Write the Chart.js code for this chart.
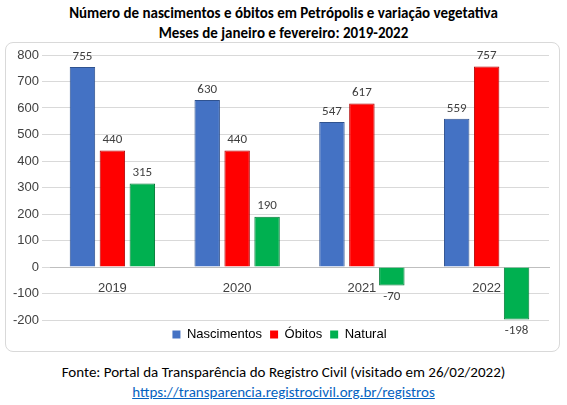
<!DOCTYPE html>
<html><head><meta charset="utf-8">
<script src="https://cdn.jsdelivr.net/npm/chart.js@4/dist/chart.umd.min.js"></script>
<style>
body{margin:0;width:567px;height:405px;font-family:Calibri,Carlito,"Liberation Sans",sans-serif;background:#fff}
h1{margin:0;padding-top:3px;font-size:15px;line-height:20px;text-align:center;font-weight:bold}
#box{position:absolute;left:5px;top:42px;width:553px;height:308px;border:1px solid #d9d9d9;border-radius:8px}
.foot{position:absolute;left:0;width:567px;text-align:center;font-size:15px}
a{color:#0563c1}
</style></head><body>
<h1>Número de nascimentos e óbitos em Petrópolis e variação vegetativa<br>Meses de janeiro e fevereiro: 2019-2022</h1>
<div id="box"><canvas id="c" width="553" height="308"></canvas></div>
<div class="foot" style="top:363px">Fonte: Portal da Transparência do Registro Civil (visitado em 26/02/2022)</div>
<div class="foot" style="top:383px"><a href="#">https://transparencia.registrocivil.org.br/registros</a></div>
<script>
const years = ['2019', '2020', '2021', '2022'];
const nascimentos = [755, 630, 547, 559];
const obitos = [440, 440, 617, 757];
const natural = [315, 190, -70, -198];

function grad(c1, c2) {
    return function(ctx) {
        const el = ctx.element;
        if (!el || !el.width) return c1;
        const g = ctx.chart.ctx.createLinearGradient(el.x - el.width / 2, 0, el.x + el.width / 2, 0);
        g.addColorStop(0, c2); g.addColorStop(0.4, c1); g.addColorStop(1, c2);
        return g;
    };
}

const labelPlugin = {
    id: 'labels',
    afterDatasetsDraw(chart) {
        const ctx = chart.ctx;
        ctx.save();
        ctx.font = '13px Calibri, Carlito, "Liberation Sans", sans-serif';
        ctx.fillStyle = '#404040';
        ctx.textAlign = 'center';
        chart.data.datasets.forEach((ds, i) => {
            chart.getDatasetMeta(i).data.forEach((bar, j) => {
                const v = ds.data[j];
                if (v >= 0) { ctx.textBaseline = 'bottom'; ctx.fillText(v, bar.x, bar.y - 4); }
                else { ctx.textBaseline = 'top'; ctx.fillText(v, bar.x, bar.y + 5); }
            });
        });
        ctx.restore();
    }
};

new Chart(document.getElementById('c'), {
    type: 'bar',
    data: {
        labels: years,
        datasets: [
            { label: 'Nascimentos', data: nascimentos, backgroundColor: grad('#4472C4', '#2a4a8a'), borderColor: '#2f528f', borderWidth: 1 },
            { label: 'Óbitos', data: obitos, backgroundColor: grad('#FF0000', '#b00000'), borderColor: '#b00000', borderWidth: 1 },
            { label: 'Natural', data: natural, backgroundColor: grad('#00B050', '#007a35'), borderColor: '#007a35', borderWidth: 1 }
        ]
    },
    options: {
        responsive: false,
        animation: false,
        layout: { padding: { left: 4, right: 10, top: 12, bottom: 0 } },
        datasets: { bar: { categoryPercentage: 0.72, barPercentage: 0.85 } },
        scales: {
            x: {
                position: { y: 0 },
                grid: { display: false },
                border: { color: '#bfbfbf' },
                ticks: { color: '#404040', font: { size: 13 }, padding: 6 }
            },
            y: {
                min: -200, max: 800,
                ticks: { stepSize: 100, color: '#404040', font: { size: 13 } },
                grid: { color: '#d9d9d9' },
                border: { display: false }
            }
        },
        plugins: {
            legend: {
                position: 'bottom',
                labels: { boxWidth: 8, boxHeight: 8, color: '#404040', font: { size: 13 }, padding: 8,
                    generateLabels(chart) {
                        const cols = ['#4472C4', '#FF0000', '#00B050'];
                        return chart.data.datasets.map((d, i) => ({ text: d.label, fillStyle: cols[i], strokeStyle: cols[i], lineWidth: 0, datasetIndex: i }));
                    } }
            },
            tooltip: { enabled: false }
        }
    },
    plugins: [labelPlugin]
});
</script>
</body></html>
